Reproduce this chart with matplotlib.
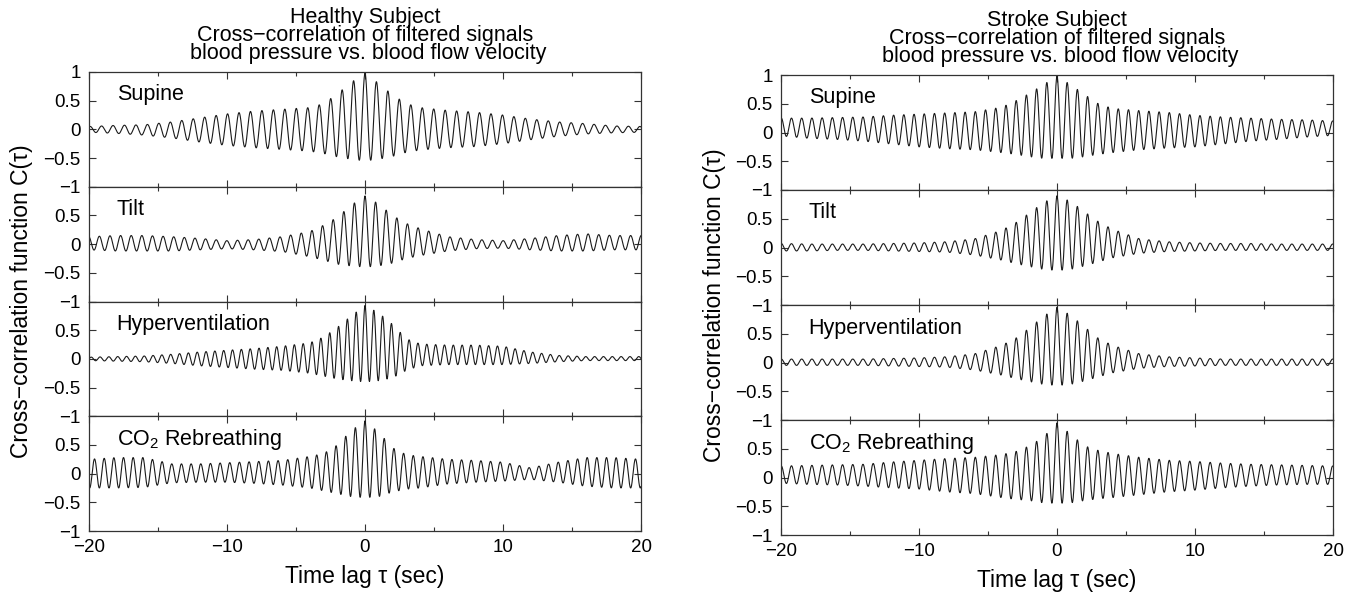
import numpy as np
import matplotlib
matplotlib.use('Agg')
import matplotlib.pyplot as plt
from matplotlib.ticker import FixedLocator

plt.rcParams['font.family'] = ['Liberation Sans', 'DejaVu Sans']
plt.rcParams['mathtext.fontset'] = 'custom'
plt.rcParams['mathtext.rm'] = 'Liberation Sans'
plt.rcParams['mathtext.it'] = 'Liberation Sans:italic'

#%% DATA
# envelope knots in seconds, shared by all traces
knots = [-20, -18, -16, -14, -12, -10, -8, -6, -4, -3, -2, -1, 0,
         1, 2, 3, 4, 6, 8, 10, 12, 14, 16, 18, 20]
conditions = ['Supine', 'Tilt', 'Hyperventilation', r'CO$_2$ Rebreathing']

# healthy subject: oscillation period (s), upper / lower envelope at knots
healthy_period = [0.83, 0.77, 0.64, 0.70]
healthy_upper = [
    [0.05, 0.07, 0.08, 0.13, 0.20, 0.27, 0.32, 0.35, 0.38, 0.45, 0.62, 0.82, 0.98,
     0.80, 0.60, 0.45, 0.38, 0.33, 0.30, 0.25, 0.18, 0.13, 0.10, 0.06, 0.05],
    [0.13, 0.15, 0.15, 0.13, 0.10, 0.06, 0.08, 0.13, 0.22, 0.33, 0.47, 0.68, 0.84,
     0.70, 0.50, 0.36, 0.27, 0.13, 0.08, 0.06, 0.10, 0.15, 0.18, 0.15, 0.15],
    [0.03, 0.04, 0.05, 0.08, 0.12, 0.15, 0.18, 0.22, 0.28, 0.38, 0.55, 0.75, 0.93,
     0.80, 0.60, 0.35, 0.26, 0.24, 0.24, 0.22, 0.12, 0.06, 0.04, 0.04, 0.04],
    [0.25, 0.28, 0.28, 0.17, 0.17, 0.19, 0.21, 0.23, 0.30, 0.35, 0.50, 0.75, 0.92,
     0.72, 0.45, 0.33, 0.30, 0.25, 0.23, 0.20, 0.10, 0.20, 0.28, 0.28, 0.25],
]
healthy_lower = [
    [-0.05, -0.07, -0.10, -0.15, -0.22, -0.28, -0.32, -0.35, -0.38, -0.42, -0.48, -0.52, -0.55,
     -0.52, -0.47, -0.40, -0.36, -0.32, -0.30, -0.25, -0.18, -0.12, -0.08, -0.06, -0.05],
    [-0.10, -0.12, -0.12, -0.12, -0.10, -0.08, -0.10, -0.13, -0.22, -0.28, -0.35, -0.38, -0.40,
     -0.38, -0.33, -0.25, -0.20, -0.12, -0.08, -0.07, -0.10, -0.12, -0.12, -0.10, -0.10],
    [-0.03, -0.04, -0.05, -0.08, -0.12, -0.15, -0.18, -0.20, -0.25, -0.30, -0.35, -0.38, -0.40,
     -0.38, -0.33, -0.20, -0.12, -0.10, -0.10, -0.10, -0.08, -0.05, -0.03, -0.03, -0.03],
    [-0.25, -0.25, -0.24, -0.16, -0.15, -0.15, -0.17, -0.20, -0.25, -0.30, -0.35, -0.40, -0.42,
     -0.40, -0.32, -0.27, -0.25, -0.18, -0.15, -0.13, -0.10, -0.15, -0.22, -0.25, -0.25],
]

# stroke subject
stroke_period = [0.74, 0.74, 0.74, 0.74]
stroke_upper = [
    [0.25, 0.25, 0.26, 0.27, 0.30, 0.32, 0.34, 0.36, 0.44, 0.55, 0.68, 0.83, 0.98,
     0.83, 0.66, 0.50, 0.42, 0.38, 0.35, 0.30, 0.27, 0.25, 0.23, 0.22, 0.20],
    [0.07, 0.06, 0.06, 0.06, 0.07, 0.08, 0.10, 0.15, 0.30, 0.43, 0.60, 0.78, 0.90,
     0.80, 0.62, 0.45, 0.32, 0.15, 0.10, 0.08, 0.07, 0.07, 0.06, 0.06, 0.06],
    [0.06, 0.06, 0.06, 0.06, 0.07, 0.08, 0.10, 0.15, 0.30, 0.42, 0.60, 0.80, 0.96,
     0.82, 0.62, 0.42, 0.30, 0.15, 0.10, 0.08, 0.06, 0.06, 0.06, 0.06, 0.06],
    [0.20, 0.21, 0.22, 0.23, 0.27, 0.30, 0.33, 0.35, 0.40, 0.45, 0.55, 0.70, 0.95,
     0.75, 0.55, 0.47, 0.42, 0.35, 0.30, 0.28, 0.25, 0.23, 0.22, 0.21, 0.20],
]
stroke_lower = [
    [-0.06, -0.10, -0.12, -0.15, -0.20, -0.25, -0.28, -0.30, -0.35, -0.38, -0.42, -0.45, -0.45,
     -0.45, -0.42, -0.38, -0.35, -0.30, -0.27, -0.25, -0.20, -0.15, -0.12, -0.08, -0.05],
    [-0.06, -0.06, -0.05, -0.05, -0.06, -0.07, -0.08, -0.13, -0.22, -0.28, -0.33, -0.38, -0.40,
     -0.38, -0.32, -0.25, -0.18, -0.10, -0.07, -0.06, -0.05, -0.05, -0.05, -0.05, -0.05],
    [-0.05, -0.05, -0.05, -0.05, -0.06, -0.07, -0.08, -0.13, -0.22, -0.28, -0.33, -0.38, -0.40,
     -0.38, -0.32, -0.25, -0.18, -0.10, -0.07, -0.06, -0.05, -0.05, -0.05, -0.05, -0.05],
    [-0.10, -0.12, -0.13, -0.15, -0.18, -0.20, -0.25, -0.28, -0.35, -0.38, -0.40, -0.44, -0.45,
     -0.44, -0.40, -0.37, -0.35, -0.30, -0.25, -0.22, -0.18, -0.15, -0.13, -0.12, -0.12],
]

panels = [
    dict(title='Healthy Subject', period=healthy_period, upper=healthy_upper,
         lower=healthy_lower, box=(89, 641, 72, 531)),
    dict(title='Stroke Subject', period=stroke_period, upper=stroke_upper,
         lower=stroke_lower, box=(781, 1333, 75, 535)),
]

W, H = 1362, 595
fs_text = 15.5
fs_tick = 13.5
fs_label = 16.5


def trace(upper, lower, period):
    tau = np.linspace(-20, 20, 6001)
    up = np.interp(tau, knots, upper)
    lo = np.interp(tau, knots, lower)
    return tau, lo + (up - lo) * 0.5 * (1 + np.cos(2 * np.pi * tau / period))


fig = plt.figure(figsize=(W / 100, H / 100), dpi=100)

for p in panels:
    x0, x1, ytop, ybot = p['box']
    hsub = (ybot - ytop) / 4
    for i in range(4):
        top = ytop + i * hsub
        ax = fig.add_axes([x0 / W, 1 - (top + hsub) / H, (x1 - x0) / W, hsub / H])
        tau, c = trace(p['upper'][i], p['lower'][i], p['period'][i])
        ax.plot(tau, c, color='#1a1a1a', lw=0.8)
        ax.set_xlim(-20, 20)
        ax.set_ylim(-1, 1)
        ax.xaxis.set_major_locator(FixedLocator([-20, -10, 0, 10, 20]))
        ax.xaxis.set_minor_locator(FixedLocator([-15, -5, 5, 15]))
        ax.set_yticks([-1, -0.5, 0, 0.5, 1])
        if i == 0:
            ax.set_yticklabels(['\u22121', '\u22120.5', '0', '0.5', '1'])
        else:
            ax.set_yticklabels(['\u22121', '\u22120.5', '0', '0.5', ''])
        ax.tick_params(which='both', direction='in', top=True, right=True,
                       labelsize=fs_tick, width=0.8, color='#333333')
        ax.tick_params(which='major', length=5, pad=6)
        ax.tick_params(which='minor', length=3)
        if i < 3:
            ax.tick_params(labelbottom=False)
        else:
            ax.set_xticklabels(['\u221220', '\u221210', '0', '10', '20'])
        for sp in ax.spines.values():
            sp.set_linewidth(0.9)
            sp.set_color('#333333')
        ax.text(0.05, 0.8, conditions[i], transform=ax.transAxes,
                fontsize=fs_text, va='center', ha='left')

    xc = (x0 + x1) / 2 / W
    title = '\n'.join([p['title'], 'Cross\u2212correlation of filtered signals',
                       ' blood pressure vs. blood flow velocity'])
    fig.text(xc, 1 - (ytop - 8) / H, title, fontsize=fs_text, ha='center',
             va='bottom', linespacing=0.82, multialignment='center')
    fig.text(xc, 1 - (ybot + 46) / H, 'Time lag \u03c4 (sec)', fontsize=fs_label,
             ha='center', va='center')
    fig.text((x0 - 67) / W, 1 - (ytop + ybot) / 2 / H,
             'Cross\u2212correlation function C(\u03c4)', fontsize=fs_label,
             rotation=90, ha='center', va='center')

fig.savefig('out.png', dpi=100)
